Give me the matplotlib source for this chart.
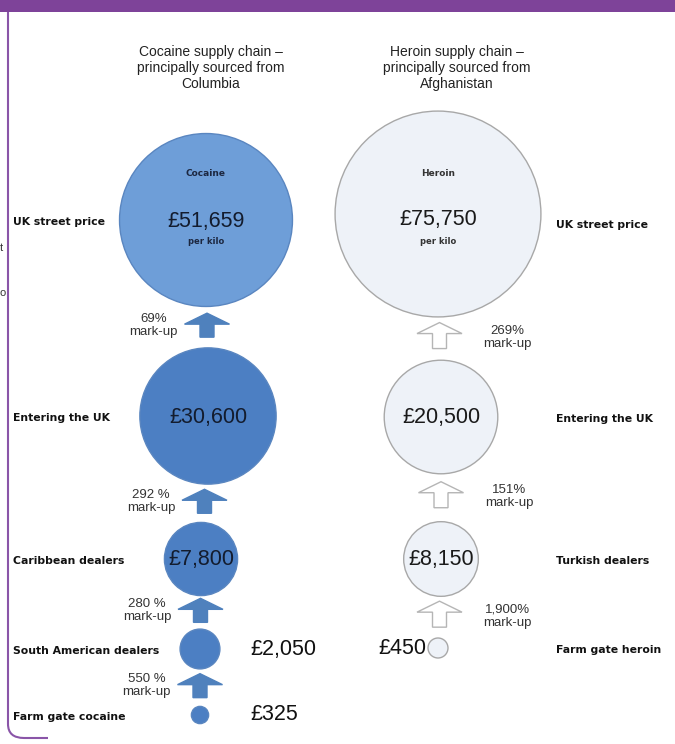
import numpy as np
import matplotlib.pyplot as plt
from matplotlib.patches import Circle, FancyArrow, PathPatch
from matplotlib.path import Path

# price per kilo at each stage of the chain (top = UK street)
coc_stages = ['UK street price', 'Entering the UK', 'Caribbean dealers',
              'South American dealers', 'Farm gate cocaine']
coc_price = [51659, 30600, 7800, 2050, 325]
coc_markup = ['69%', '292 %', '280 %', '550 %']

her_stages = ['UK street price', 'Entering the UK', 'Turkish dealers', 'Farm gate heroin']
her_price = [75750, 20500, 8150, 450]
her_markup = ['269%', '151%', '1,900%']

# layout (pixel space)
coc_x = [206, 208, 201, 200, 200]
coc_y = [220, 416, 559, 649, 715]
her_x = [438, 441, 441, 438]
her_y = [214, 417, 559, 648]

SANS = ['Liberation Sans', 'DejaVu Sans']


def rad(v):
    # size scale used by the original graphic (slightly below area-proportional)
    return 0.62 * v ** 0.455


fig = plt.figure(figsize=(6.75, 7.44), dpi=100)
ax = fig.add_axes([0, 0, 1, 1])
ax.set_xlim(0, 675)
ax.set_ylim(744, 0)
ax.set_aspect('equal')
ax.axis('off')

# purple frame
ax.add_patch(plt.Rectangle((0, 0), 675, 12, color='#7E4399', lw=0))
frame = Path([(8, 12), (8, 724), (8, 738), (24, 738), (48, 738)],
             [Path.MOVETO, Path.LINETO, Path.CURVE3, Path.CURVE3, Path.LINETO])
ax.add_patch(PathPatch(frame, fill=False, ec='#8A55A8', lw=1.5))
# bits of neighbouring page text showing at the left edge
ax.text(0, 248, 't', ha='left', va='center', fontsize=8, color='#333333', family=SANS)
ax.text(0, 293, 'o', ha='left', va='center', fontsize=8, color='#333333', family=SANS)

# headers
ax.text(211, 68, 'Cocaine supply chain \u2013\nprincipally sourced from\nColumbia',
        ha='center', va='center', fontsize=10, family=SANS, color='#222222',
        linespacing=1.15)
ax.text(457, 68, 'Heroin supply chain \u2013\nprincipally sourced from\nAfghanistan',
        ha='center', va='center', fontsize=10, family=SANS, color='#222222',
        linespacing=1.15)


def up_arrow(x, ymid, h, face, edge):
    a = FancyArrow(x, ymid + h / 2, 0, -h, width=14, head_width=45, head_length=11,
                   length_includes_head=True, fc=face, ec=edge, lw=1)
    ax.add_patch(a)


# cocaine chain
coc_r = [rad(v) for v in coc_price]
for i, (v, x, y, r) in enumerate(zip(coc_price, coc_x, coc_y, coc_r)):
    fc = '#6E9ED8' if i == 0 else '#4C7FC3'
    ax.add_patch(Circle((x, y), r, fc=fc, ec='#5A86C0', lw=1))
    lab = '\u00a3{:,}'.format(v)
    if r > 30:
        ax.text(x, y + 1, lab, ha='center', va='center', fontsize=15.5,
                family=SANS, color='#131C2E')
    else:
        ax.text(250, y, lab, ha='left', va='center', fontsize=15.5,
                family=SANS, color='#111111')
    ax.text(13, y + 2, coc_stages[i], ha='left', va='center', fontsize=7.8,
            fontweight='heavy', color='#111111')
ax.text(coc_x[0], coc_y[0] - 47, 'Cocaine', ha='center', va='center', fontsize=6.5,
        fontweight='bold', color='#1C2740')
ax.text(coc_x[0], coc_y[0] + 21, 'per kilo', ha='center', va='center', fontsize=6,
        fontweight='bold', color='#1C2740')

for i, m in enumerate(coc_markup):
    top = coc_y[i] + coc_r[i]
    bot = coc_y[i + 1] - coc_r[i + 1]
    mid = (top + bot) / 2 - 2
    xa = (coc_x[i] + coc_x[i + 1]) / 2
    up_arrow(xa, mid, 24, '#4F81BD', '#4F81BD')
    ax.text(xa - 29, mid, m + '\nmark-up', ha='right', va='center', multialignment='center',
            fontsize=9.5, family=SANS, color='#333333', linespacing=1.1)

# heroin chain
her_r = [rad(v) for v in her_price]
for i, (v, x, y, r) in enumerate(zip(her_price, her_x, her_y, her_r)):
    ax.add_patch(Circle((x, y), r, fc='#EEF2F8', ec='#A8A8A8', lw=1))
    lab = '\u00a3{:,}'.format(v)
    if r > 30:
        ax.text(x, y + (6 if i == 0 else 1), lab, ha='center', va='center', fontsize=15.5,
                family=SANS, color='#1A1A1A')
    else:
        ax.text(x - r - 2, y + 1, lab, ha='right', va='center', fontsize=15.5,
                family=SANS, color='#111111')
    ax.text(556, y + 2 + (9 if i == 0 else 0), her_stages[i], ha='left', va='center',
            fontsize=7.8, fontweight='heavy', color='#111111')
ax.text(her_x[0], her_y[0] - 41, 'Heroin', ha='center', va='center', fontsize=6.5,
        fontweight='bold', color='#333333')
ax.text(her_x[0], her_y[0] + 28, 'per kilo', ha='center', va='center', fontsize=6,
        fontweight='bold', color='#333333')

for i, m in enumerate(her_markup):
    top = her_y[i] + her_r[i]
    bot = her_y[i + 1] - her_r[i + 1]
    mid = (top + bot) / 2 - 3
    xa = (her_x[i] + her_x[i + 1]) / 2
    up_arrow(xa, mid, 26, 'white', '#B5B5B5')
    ax.text(xa + 44, mid + 2, m + '\nmark-up', ha='left', va='center', multialignment='center',
            fontsize=9.5, family=SANS, color='#333333', linespacing=1.1)

fig.savefig('out.png', dpi=100, facecolor='white')
